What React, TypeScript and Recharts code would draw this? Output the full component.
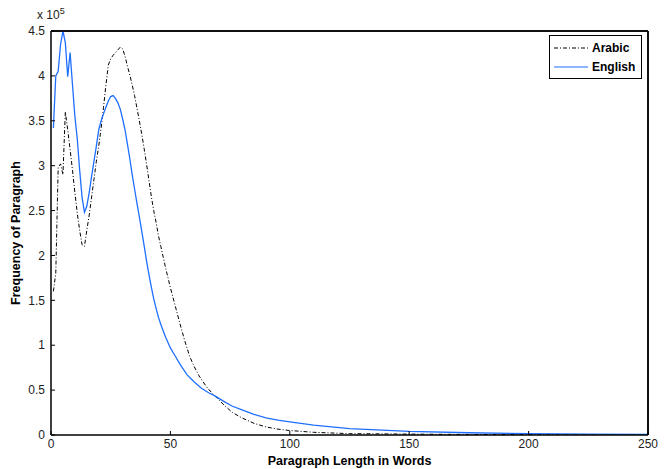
import React from "react"
import { LineChart, Line, XAxis, YAxis, Label, ReferenceLine } from "recharts"

// paragraph length (words) and frequency (x 1e5)
const arabicX = [1, 2, 3, 4, 5, 6, 7, 8, 9, 10, 11, 12, 13, 14, 15, 16, 17, 18, 19, 20, 21, 22, 23, 24, 25, 26, 27, 28, 29, 30, 31, 32, 33, 34, 35, 36, 37, 38, 39, 40, 41, 42, 43, 44, 45, 46, 47, 48, 49, 50, 52, 54, 56, 58, 60, 62, 65, 68, 70, 73, 76, 80, 85, 90, 95, 100, 110, 125, 150, 175, 200, 250]
const arabicY = [1.6, 1.8, 2.98, 3.02, 2.9, 3.6, 3.4, 3.18, 2.95, 2.7, 2.47, 2.28, 2.12, 2.1, 2.28, 2.45, 2.65, 2.85, 3.05, 3.22, 3.42, 3.65, 3.9, 4.12, 4.19, 4.23, 4.26, 4.29, 4.32, 4.3, 4.22, 4.11, 4.01, 3.9, 3.78, 3.64, 3.5, 3.35, 3.19, 3.02, 2.84, 2.66, 2.5, 2.37, 2.22, 2.1, 1.98, 1.86, 1.75, 1.64, 1.44, 1.24, 1.05, 0.88, 0.76, 0.66, 0.54, 0.45, 0.4, 0.32, 0.25, 0.19, 0.13, 0.09, 0.065, 0.05, 0.03, 0.015, 0.01, 0.006, 0.004, 0.002]

const englishX = [1, 2, 3, 4, 5, 6, 7, 8, 9, 10, 11, 12, 13, 14, 15, 16, 17, 18, 19, 20, 21, 22, 23, 24, 25, 26, 27, 28, 29, 30, 31, 32, 33, 34, 35, 36, 37, 38, 39, 40, 41, 42, 43, 44, 45, 46, 48, 50, 52, 54, 57, 60, 63, 66, 69, 72, 76, 80, 85, 90, 95, 100, 110, 125, 150, 175, 200, 225, 250]
const englishY = [3.42, 4.0, 4.05, 4.35, 4.5, 4.37, 3.99, 4.26, 3.9, 3.55, 3.3, 2.95, 2.65, 2.48, 2.55, 2.7, 2.88, 3.05, 3.22, 3.4, 3.5, 3.58, 3.65, 3.72, 3.77, 3.78, 3.75, 3.7, 3.63, 3.52, 3.4, 3.24, 3.08, 2.9, 2.74, 2.58, 2.43, 2.27, 2.11, 1.94, 1.79, 1.65, 1.52, 1.41, 1.31, 1.23, 1.09, 0.97, 0.88, 0.79, 0.67, 0.59, 0.52, 0.47, 0.43, 0.38, 0.32, 0.28, 0.23, 0.19, 0.165, 0.145, 0.11, 0.07, 0.04, 0.025, 0.015, 0.01, 0.008]

const xTicks = [0, 50, 100, 150, 200, 250]
const yTicks = [0, 0.5, 1, 1.5, 2, 2.5, 3, 3.5, 4, 4.5]

const BLUE = "#1f6fff"
const FONT = "'Liberation Sans', Arial, sans-serif"

const arabicData = arabicX.map((x, i) => ({ x, y: arabicY[i] * 1e5 }))
const englishData = englishX.map((x, i) => ({ x, y: englishY[i] * 1e5 }))

const tickStyle = { fontSize: 12, fill: "#222", fontFamily: FONT }

const LegendBox = () => (
  <div
    style={{
      position: "absolute",
      left: 549,
      top: 35,
      border: "1px solid #000",
      background: "#fff",
      width: 93,
      height: 44,
      fontFamily: FONT,
      fontWeight: "bold",
      fontSize: 12,
      color: "#000",
      boxSizing: "border-box",
      paddingTop: 2,
    }}
  >
    <div style={{ display: "flex", alignItems: "center", height: 19 }}>
      <svg width={38} height={10} style={{ marginLeft: 4 }}>
        <line x1={0} y1={5} x2={34} y2={5} stroke="#000" strokeWidth={1} strokeDasharray="4 2 1 2" />
      </svg>
      <span>Arabic</span>
    </div>
    <div style={{ display: "flex", alignItems: "center", height: 19 }}>
      <svg width={38} height={10} style={{ marginLeft: 4 }}>
        <line x1={0} y1={5} x2={34} y2={5} stroke={BLUE} strokeWidth={1.2} />
      </svg>
      <span>English</span>
    </div>
  </div>
)

export default function App() {
  return (
    <div style={{ position: "absolute", left: 0, top: 0, width: 670, height: 469, background: "#fff" }}>
      <LineChart width={670} height={469} margin={{ top: 30, right: 21, left: 0, bottom: 0 }}>
        <XAxis
          xAxisId="b"
          dataKey="x"
          type="number"
          domain={[0, 250]}
          ticks={xTicks}
          allowDataOverflow
          height={34}
          tick={tickStyle}
          tickSize={-4}
          tickMargin={8}
          axisLine={{ stroke: "#000", strokeWidth: 1.5 }}
          tickLine={{ stroke: "#000" }}
        >
          <Label
            value="Paragraph Length in Words"
            position="insideBottom"
            offset={4}
            style={{ fontSize: 12.5, fontWeight: "bold", fill: "#000", fontFamily: FONT }}
          />
        </XAxis>
        <XAxis
          xAxisId="t"
          dataKey="x"
          type="number"
          orientation="top"
          domain={[0, 250]}
          ticks={xTicks}
          allowDataOverflow
          height={1}
          tick={false}
          tickSize={-4}
          axisLine={{ stroke: "#000", strokeWidth: 1.5 }}
          tickLine={{ stroke: "#000" }}
        />
        <YAxis
          yAxisId="l"
          type="number"
          domain={[0, 450000]}
          ticks={yTicks.map((v) => v * 1e5)}
          allowDataOverflow
          width={51}
          tick={tickStyle}
          tickFormatter={(v: number) => String(v / 1e5)}
          tickSize={-4}
          tickMargin={10}
          axisLine={{ stroke: "#000", strokeWidth: 1.5 }}
          tickLine={{ stroke: "#000" }}
        >
          <Label
            value="Frequency of Paragraph"
            angle={-90}
            position="insideLeft"
            offset={16}
            style={{ fontSize: 12.5, fontWeight: "bold", fill: "#000", fontFamily: FONT, textAnchor: "middle" }}
          />
        </YAxis>
        <YAxis
          yAxisId="r"
          type="number"
          orientation="right"
          domain={[0, 450000]}
          ticks={yTicks.map((v) => v * 1e5)}
          allowDataOverflow
          width={1}
          tick={false}
          tickSize={-4}
          axisLine={{ stroke: "#000", strokeWidth: 1.5 }}
          tickLine={{ stroke: "#000" }}
        />
        {/* box edges */}
        <ReferenceLine xAxisId="b" yAxisId="l" y={450000} stroke="#000" strokeWidth={1.5} ifOverflow="visible" />
        <ReferenceLine xAxisId="b" yAxisId="l" x={250} stroke="#000" strokeWidth={1.5} ifOverflow="visible" />
        {/* invisible series so the mirrored box axes get drawn */}
        <Line
          xAxisId="t"
          yAxisId="r"
          data={englishData}
          dataKey="y"
          stroke="none"
          dot={false}
          activeDot={false}
          legendType="none"
          isAnimationActive={false}
        />
        <Line
          xAxisId="b"
          yAxisId="l"
          data={arabicData}
          dataKey="y"
          name="Arabic"
          type="linear"
          stroke="#000"
          strokeWidth={1}
          strokeDasharray="4 2 1 2"
          dot={false}
          isAnimationActive={false}
        />
        <Line
          xAxisId="b"
          yAxisId="l"
          data={englishData}
          dataKey="y"
          name="English"
          type="linear"
          stroke={BLUE}
          strokeWidth={1.3}
          dot={false}
          isAnimationActive={false}
        />
      </LineChart>
      <LegendBox />
      <div style={{ position: "absolute", left: 37, top: 6, fontFamily: FONT, fontSize: 12, color: "#222" }}>
        x 10<sup style={{ fontSize: 9 }}>5</sup>
      </div>
    </div>
  )
}
